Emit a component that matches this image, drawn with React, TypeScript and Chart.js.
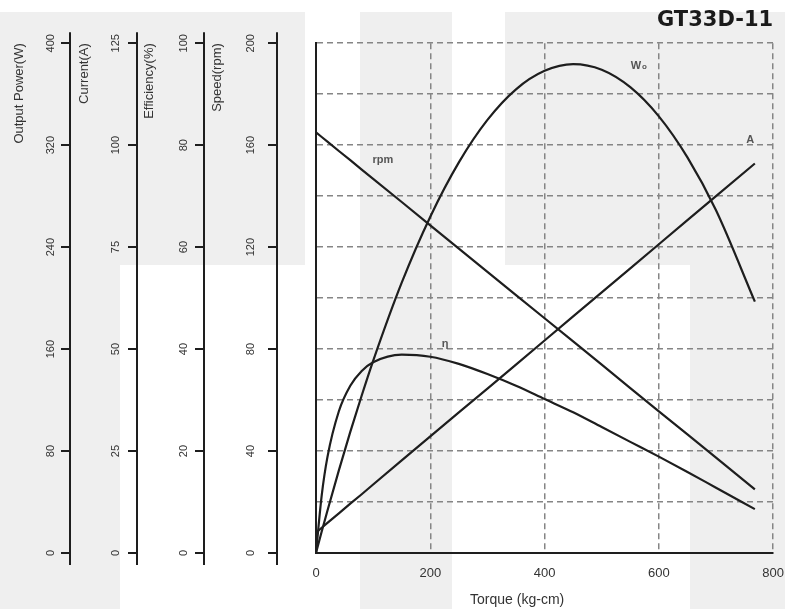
import React, { useEffect, useRef } from 'react';
import { Chart, registerables } from 'chart.js';

Chart.register(...registerables);

// ---- data ----
const torque = [0, 10, 20, 40, 60, 80, 100, 150, 200, 250, 300, 350, 400, 450, 500, 550, 600, 650, 700, 768];
const speedRpm = [165, 163.2, 161.4, 157.7, 154.1, 150.4, 146.8, 137.7, 128.5, 119.4, 110.3, 101.2, 92.1, 83.0, 73.9, 64.7, 55.6, 46.5, 37.4, 25.0];
const currentA = [5.0, 6.2, 7.4, 9.7, 12.1, 14.4, 16.8, 22.7, 28.6, 34.5, 40.3, 46.2, 52.1, 58.0, 63.9, 69.8, 75.7, 81.6, 87.5, 95.5];
const outputW = [0, 16.8, 33.1, 64.8, 95.0, 123.6, 150.8, 212.1, 263.9, 306.5, 339.8, 363.8, 378.3, 383.6, 379.2, 365.5, 342.6, 310.4, 268.9, 197.2];
const efficiencyPct = [0, 11.3, 18.8, 27.8, 32.8, 35.7, 37.4, 38.9, 38.5, 37.1, 35.1, 32.8, 30.2, 27.6, 24.7, 21.8, 18.9, 15.9, 12.8, 8.6];

const xTickStep = 200;
const xMax = 800;
const powerMax = 400, powerStep = 80;
const currentMax = 125, currentStep = 25;
const effMax = 100, effStep = 20;
const speedMax = 200, speedStep = 40;
const gridStep = 20;

const chartTitle = 'GT33D-11';
const xTitle = 'Torque (kg-cm)';

// curve labels anchored in data space (torque, speed units)
const curveLabels = [
  { text: 'W', sub: 'o', torque: 565, speed: 191 },
  { text: 'A', sub: '', torque: 760, speed: 162 },
  { text: 'rpm', sub: '', torque: 117, speed: 154 },
  { text: 'η', sub: '', torque: 226, speed: 82 },
];

// light gray watermark blocks in the background
const watermark: number[][] = [
  [0, 12, 305, 253],
  [0, 265, 120, 344],
  [360, 12, 92, 597],
  [505, 12, 280, 253],
  [690, 265, 95, 344],
];

const FONT = 'Liberation Sans';
const INK = '#1e1e1e';
const GRID = '#858585';
const CLEAR = 'rgba(0,0,0,0)';

const pts = (vals: number[]) => torque.map((t, i) => ({ x: t, y: vals[i] }));

const leftAxis = (
  title: string, max: number, step: number, weight: number,
  width: number, titlePad: number, labelPad: number,
) => ({
  type: 'linear',
  position: 'left',
  weight,
  min: 0,
  max,
  ticks: {
    stepSize: step,
    minRotation: 90,
    maxRotation: 90,
    crossAlign: 'center',
    padding: labelPad,
    font: { family: FONT, size: 11 },
    color: '#333',
  },
  grid: {
    drawOnChartArea: false,
    drawTicks: true,
    tickLength: 9,
    tickWidth: 2,
    tickColor: INK,
    color: INK,
    lineWidth: 2,
  },
  border: { display: true, color: INK, width: 2 },
  title: {
    display: true,
    text: title,
    align: 'end',
    font: { family: FONT, size: 13 },
    color: '#333',
    padding: { top: titlePad, bottom: 0 },
  },
  afterFit: (s: any) => { s.width = width; },
});

const overlayPlugin = {
  id: 'overlay',
  beforeDraw(chart: any) {
    const { ctx, width, height } = chart;
    ctx.save();
    ctx.fillStyle = '#ffffff';
    ctx.fillRect(0, 0, width, height);
    ctx.fillStyle = '#efefef';
    for (const [x, y, w, h] of watermark) ctx.fillRect(x, y, w, h);
    ctx.restore();
  },
  afterDraw(chart: any) {
    const { ctx, scales } = chart;
    ctx.save();
    ctx.strokeStyle = INK;
    ctx.lineWidth = 2;
    for (const id of ['power', 'current', 'eff', 'speed']) {
      const s = scales[id];
      const x = Math.round(s.right - 1) + 1;
      ctx.beginPath();
      ctx.moveTo(x, s.top - 11);
      ctx.lineTo(x, s.bottom + 12);
      ctx.stroke();
    }
    // curve labels
    ctx.fillStyle = '#555';
    ctx.textBaseline = 'middle';
    for (const l of curveLabels) {
      const x = scales.x.getPixelForValue(l.torque);
      const y = scales.speed.getPixelForValue(l.speed);
      ctx.font = `bold 11px "${FONT}"`;
      const w1 = ctx.measureText(l.text).width;
      ctx.font = `bold 8px "${FONT}"`;
      const w2 = l.sub ? ctx.measureText(l.sub).width + 1 : 0;
      const x0 = x - (w1 + w2) / 2;
      ctx.textAlign = 'left';
      ctx.font = `bold 11px "${FONT}"`;
      ctx.fillText(l.text, x0, y);
      if (l.sub) {
        ctx.font = `bold 8px "${FONT}"`;
        ctx.fillText(l.sub, x0 + w1 + 1, y + 1);
      }
    }
    // x axis title
    ctx.fillStyle = '#333';
    ctx.font = `14px "${FONT}"`;
    ctx.textAlign = 'center';
    ctx.fillText(xTitle, scales.x.getPixelForValue(352), scales.x.bottom - 9);
    ctx.restore();
  },
};

export default function App() {
  const ref = useRef<HTMLCanvasElement | null>(null);

  useEffect(() => {
    if (!ref.current) return;
    const lineStyle = {
      borderColor: INK,
      backgroundColor: INK,
      borderWidth: 2.2,
      pointRadius: 0,
      fill: false,
    };
    const chart = new Chart(ref.current, {
      type: 'line',
      data: {
        datasets: [
          { ...lineStyle, label: 'rpm', data: pts(speedRpm), yAxisID: 'speed', tension: 0 },
          { ...lineStyle, label: 'A', data: pts(currentA), yAxisID: 'current', tension: 0 },
          { ...lineStyle, label: 'Wo', data: pts(outputW), yAxisID: 'power', cubicInterpolationMode: 'monotone' },
          { ...lineStyle, label: 'η', data: pts(efficiencyPct), yAxisID: 'eff', cubicInterpolationMode: 'monotone' },
        ],
      } as any,
      options: {
        responsive: false,
        animation: false,
        events: [],
        layout: { padding: { left: 0, right: 0, top: 0, bottom: 0 } },
        plugins: {
          legend: { display: false },
          tooltip: { enabled: false },
          title: {
            display: true,
            fullSize: false,
            text: chartTitle,
            align: 'end',
            color: '#1a1a1a',
            font: { family: 'DejaVu Sans', size: 21, weight: 'bold' },
            padding: { top: 8, bottom: 10 },
          },
        },
        scales: {
          x: {
            type: 'linear',
            position: 'bottom',
            min: 0,
            max: xMax,
            ticks: {
              stepSize: xTickStep,
              padding: 1,
              font: { family: FONT, size: 13 },
              color: '#333',
            },
            grid: {
              drawTicks: true,
              tickLength: 12,
              tickColor: CLEAR,
              color: (c: any) => (c.tick && c.tick.value === 0 ? CLEAR : GRID),
              lineWidth: 1.5,
            },
            border: { display: true, color: INK, width: 2, dash: [6, 4] },
            afterFit: (s: any) => { s.height = 56; },
          },
          power: leftAxis('Output Power(W)', powerMax, powerStep, 4, 70, 12, 1),
          current: leftAxis('Current(A)', currentMax, currentStep, 3, 67, 7, 3),
          eff: leftAxis('Efficiency(%)', effMax, effStep, 2, 67, 5, 2),
          speed: leftAxis('Speed(rpm)', speedMax, speedStep, 1, 73, 6, 8),
          grid: {
            type: 'linear',
            position: 'left',
            weight: 0,
            min: 0,
            max: speedMax,
            ticks: { display: false, stepSize: gridStep },
            grid: {
              drawTicks: false,
              color: (c: any) => (c.tick && c.tick.value === 0 ? CLEAR : GRID),
              lineWidth: 1.5,
            },
            border: { display: true, color: INK, width: 2, dash: [6, 4] },
            afterFit: (s: any) => { s.width = 39; },
          },
        } as any,
      },
      plugins: [overlayPlugin],
    } as any);
    return () => chart.destroy();
  }, []);

  return (
    <div style={{ position: 'fixed', left: 0, top: 0, width: 785, height: 609 }}>
      <canvas ref={ref} width={785} height={609} style={{ display: 'block' }} />
    </div>
  );
}
